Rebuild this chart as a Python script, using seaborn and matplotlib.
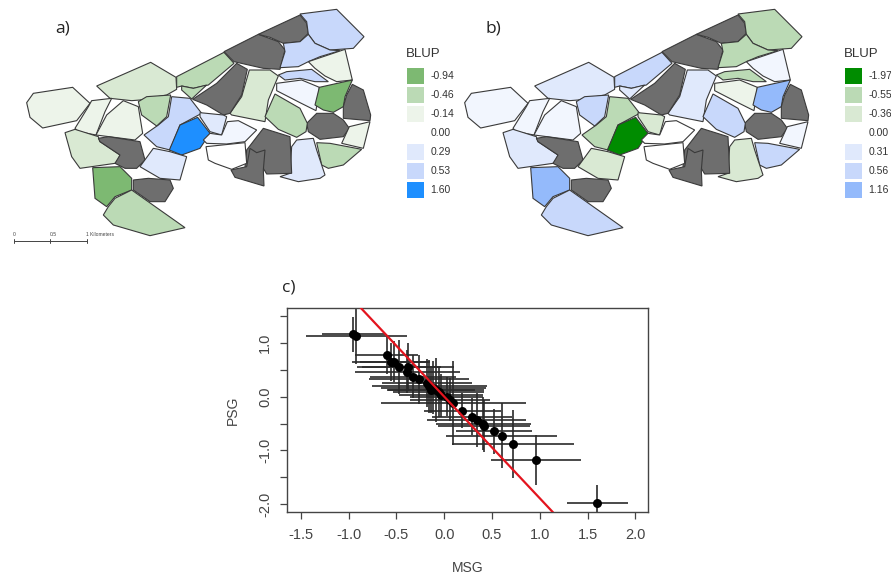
# panels a, b: BLUP maps, panel c: PSG vs MSG
import numpy as np
import matplotlib
matplotlib.use("Agg")
import matplotlib.pyplot as plt
from matplotlib.patches import Polygon, Rectangle
import seaborn as sns

# map shades
G1 = "#7DB972"
G2 = "#BBDAB5"
G3 = "#D9E9D3"
G4 = "#EDF4EA"
W = "#FFFFFF"
B4 = "#F2F6FE"
B3 = "#E0E9FC"
B2 = "#C8D8FB"
B1 = "#94BAFB"
BB = "#1E8FFF"
GG = "#008C00"
NA = "#6E6E6E"

# plots: outline, shade in map a, shade in map b
plots = [
    ([(80,308),(100,280),(218,262),(270,310),(230,362),(128,384),(90,352)], G4, B4),
    ([(290,258),(452,187),(528,232),(530,268),(500,285),(420,300),(395,302),(330,295)], G3, B3),
    ([(530,230),(672,157),(702,190),(625,255),(580,265),(545,258),(530,262)], G2, B2),
    ([(545,258),(580,265),(620,255),(575,297),(545,270)], G2, B3),
    ([(672,155),(775,103),(835,125),(855,150),(840,208),(790,205),(702,185)], NA, NA),
    ([(775,103),(900,45),(920,70),(925,100),(900,125),(850,130),(810,112)], NA, NA),
    ([(900,42),(1010,28),(1092,110),(1060,145),(990,150),(945,130),(925,103),(920,65)], B2, G2),
    ([(850,130),(900,125),(925,103),(945,130),(990,150),(1020,152),(960,170),(925,185),(895,200),(840,203),(855,155)], B2, G2),
    ([(925,185),(1035,148),(1057,240),(1010,245),(975,228),(945,205)], G4, B4),
    ([(835,225),(860,215),(935,208),(985,245),(945,245),(900,235),(855,240)], B2, G2),
    ([(830,250),(905,240),(958,262),(948,332),(900,308),(830,272)], B4, G4),
    ([(958,262),(1057,240),(1035,290),(1030,320),(1000,337),(970,330),(945,315)], G1, B1),
    ([(1057,253),(1090,270),(1112,345),(1110,362),(1030,355),(1030,320),(1040,285)], NA, NA),
    ([(920,370),(950,340),(1000,340),(1030,360),(1048,385),(1030,410),(960,418),(925,395)], NA, NA),
    ([(1048,380),(1110,365),(1090,445),(1025,430)], G4, B4),
    ([(950,428),(990,430),(1085,448),(1030,495),(985,505),(965,495)], G2, B2),
    ([(890,420),(940,415),(950,450),(975,525),(960,535),(895,545),(840,530),(870,520),(875,440)], B3, G3),
    ([(790,385),(870,410),(875,520),(800,522),(790,505),(750,510),(735,500),(740,450)], NA, NA),
    ([(693,510),(740,500),(750,445),(770,458),(795,450),(790,510),(792,558),(705,532)], NA, NA),
    ([(748,210),(810,210),(835,228),(805,300),(795,365),(695,345),(690,340),(725,290)], G3, B3),
    ([(578,298),(650,250),(710,190),(742,208),(725,285),(690,340),(670,345),(620,315)], NA, NA),
    ([(825,282),(900,325),(922,370),(918,395),(890,412),(835,388),(795,350)], G2, B2),
    ([(515,290),(570,295),(605,340),(540,375),(510,450),(470,440),(432,405),(475,375),(505,350)], B2, G2),
    ([(540,375),(593,352),(630,400),(600,445),(545,465),(508,450)], BB, GG),
    ([(600,338),(670,345),(680,350),(665,405),(630,395),(600,350)], B3, G3),
    ([(610,420),(630,400),(665,405),(682,365),(715,362),(770,390),(735,425),(680,432),(620,430)], B4, W),
    ([(618,440),(735,428),(740,490),(695,508),(645,490),(625,480)], W, W),
    ([(415,305),(440,290),(512,285),(500,350),(470,378),(425,345)], G2, B2),
    ([(225,385),(265,320),(275,302),(335,295),(315,335),(288,405),(235,395)], G4, B4),
    ([(288,405),(320,345),(370,302),(415,320),(428,400),(405,420)], G4, B4),
    ([(195,398),(225,388),(295,410),(300,425),(360,465),(355,480),(345,490),(240,505),(215,470)], G3, B3),
    ([(295,415),(325,410),(420,425),(435,480),(410,505),(375,505),(345,490),(360,465),(300,425)], NA, NA),
    ([(460,445),(510,455),(560,470),(540,540),(480,535),(420,500)], B3, G3),
    ([(278,503),(360,500),(395,535),(395,570),(345,590),(320,620),(285,595)], G1, B1),
    ([(400,540),(445,535),(510,540),(520,565),(495,605),(450,605),(400,570)], NA, NA),
    ([(345,595),(395,570),(555,683),(450,707),(340,675),(310,645),(325,620)], G2, B2),
]

# map legends
legend_a_labels = ["-0.94", "-0.46", "-0.14", "0.00", "0.29", "0.53", "1.60"]
legend_a_colors = [G1, G2, G4, W, B3, B2, BB]
legend_b_labels = ["-1.97", "-0.55", "-0.36", "0.00", "0.31", "0.56", "1.16"]
legend_b_colors = [GG, G2, G3, W, B3, B2, B1]

# panel c data
msg = [-0.952, -0.92, -0.603, -0.558, -0.527, -0.47, -0.383, -0.387, -0.324, -0.265,
       -0.18, -0.157, -0.143, -0.115, -0.087, -0.06, -0.03, 0.025, 0.06, 0.095,
       0.19, 0.29, 0.34, 0.41, 0.415, 0.52, 0.60, 0.72, 0.96, 1.60]
psg = [1.16, 1.12, 0.77, 0.65, 0.65, 0.55, 0.55, 0.46, 0.37, 0.32,
       0.25, 0.19, 0.12, 0.17, 0.12, 0.09, 0.03, 0.0, -0.06, -0.11,
       -0.26, -0.37, -0.43, -0.50, -0.545, -0.645, -0.725, -0.88, -1.18, -1.98]
msg_err = [0.33, 0.53, 0.33, 0.41, 0.36, 0.44, 0.48, 0.55, 0.45, 0.52,
           0.47, 0.60, 0.46, 0.55, 0.50, 0.48, 0.44, 0.38, 0.42, 0.76,
           0.40, 0.42, 0.52, 0.50, 0.48, 0.40, 0.58, 0.64, 0.47, 0.32]
psg_err = [0.33, 0.52, 0.35, 0.35, 0.38, 0.50, 0.45, 0.40, 0.40, 0.45,
           0.45, 0.50, 0.42, 0.50, 0.60, 0.46, 0.40, 0.36, 0.40, 0.78,
           0.32, 0.35, 0.50, 0.50, 0.48, 0.42, 0.60, 0.64, 0.47, 0.33]
red_slope = -1.89
x_ticks = [-1.5, -1.0, -0.5, 0.0, 0.5, 1.0, 1.5, 2.0]
y_ticks = [-2.0, -1.5, -1.0, -0.5, 0.0, 0.5, 1.0, 1.5]
y_labels = ["-2.0", "", "-1.0", "", "0.0", "", "1.0", ""]

sns.set_style("white")
plt.rcParams["font.family"] = ["Liberation Sans", "DejaVu Sans"]
TXT = "#444444"

fig = plt.figure(figsize=(8.91, 5.76), dpi=100)


def draw_map(left_px, shade_idx, labels, colors, letter, letter_x):
    ax = fig.add_axes([left_px / 891, 1 - 250 / 576, 453 / 891, 250 / 576])
    ax.set_xlim(0, 1359)
    ax.set_ylim(750, 0)
    ax.axis("off")
    for p in plots:
        ax.add_patch(Polygon(p[0], closed=True, facecolor=p[shade_idx],
                             edgecolor="#3a3a3a", linewidth=0.8))
    ax.text(1218, 163, "BLUP", fontsize=9.5, color="#333333", va="center")
    for i, (lab, col) in enumerate(zip(labels, colors)):
        y = 203 + i * 57.2
        ax.add_patch(Rectangle((1220, y), 52, 48, facecolor=col, edgecolor="none"))
        ax.text(1292, y + 25, lab, fontsize=7.5, color="#333333", va="center")
    ax.text(letter_x, 85, letter, fontsize=12.5, color="#222222", va="center",
            family=["Open Sans", "DejaVu Sans"])
    return ax


ax_a = draw_map(0, 1, legend_a_labels, legend_a_colors, "a)", 165)
draw_map(438, 2, legend_b_labels, legend_b_colors, "b)", 143)

# scale bar
bar_pos = [42, 151, 260]
bar_text = ["0", "0.5", "1 Kilometers"]
ax_a.plot([bar_pos[0], bar_pos[2]], [722, 722], color="#444444", lw=0.7)
for bx, bt in zip(bar_pos, bar_text):
    ax_a.plot([bx, bx], [716, 728], color="#444444", lw=0.7)
    ax_a.text(bx - 3, 704, bt, fontsize=3.6, color="#444444", va="center")

# panel c
ax = fig.add_axes([287.3 / 891, 1 - 512.3 / 576, 361 / 891, 204.6 / 576])
ax.errorbar(msg, psg, xerr=msg_err, yerr=psg_err, fmt="none", ecolor="#2a2a2a",
            elinewidth=1.2, capsize=0, zorder=2)
sns.scatterplot(x=msg, y=psg, color="black", s=42, edgecolor="black", linewidth=0,
                zorder=3, ax=ax)
ax.axline((0, 0), slope=red_slope, color="#E3141E", lw=1.6, zorder=4)
ax.set_xlim(-1.643, 2.136)
ax.set_ylim(-2.151, 1.655)
ax.set_xticks(x_ticks)
ax.set_xticklabels([f"{v:.1f}" for v in x_ticks])
ax.set_yticks(y_ticks)
ax.set_yticklabels(y_labels, rotation=90, va="center")
ax.tick_params(axis="both", direction="out", length=5, width=0.9, color=TXT,
               labelcolor=TXT, labelsize=10.5, pad=6, bottom=True, left=True)
for s in ax.spines.values():
    s.set_color(TXT)
    s.set_linewidth(1.0)
fig.text(468 / 891, 1 - 568 / 576, "MSG", fontsize=10, color=TXT, ha="center", va="center")
fig.text(233 / 891, 1 - 410 / 576, "PSG", fontsize=10, color=TXT, rotation=90,
         ha="center", va="center")
fig.text(282 / 891, 1 - 287 / 576, "c)", fontsize=12.5, color="#222222", va="center",
         family=["Open Sans", "DejaVu Sans"])

fig.savefig("out.png", dpi=100)
